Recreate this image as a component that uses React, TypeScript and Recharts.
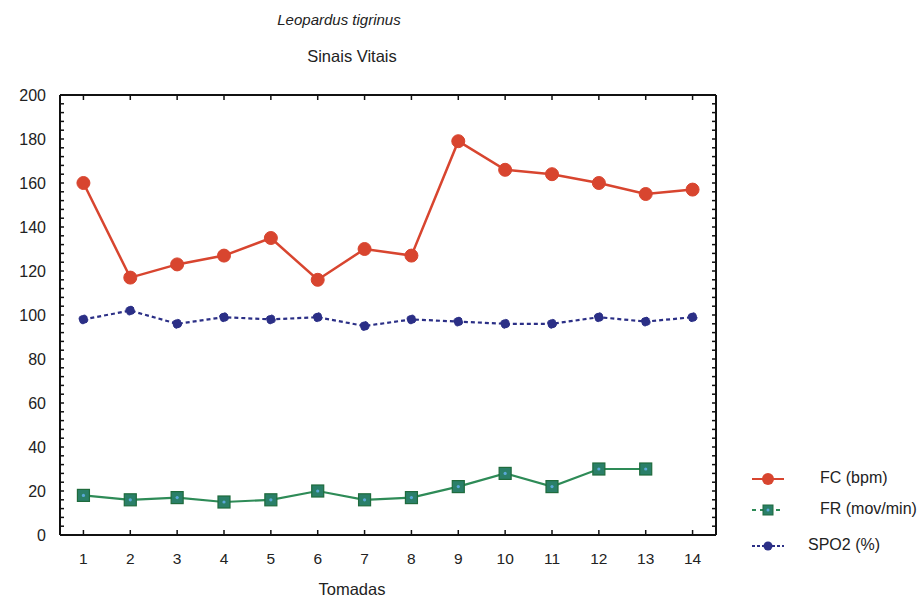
import {
  LineChart,
  Line,
  XAxis,
  YAxis,
} from "recharts";

const tomadas = [1, 2, 3, 4, 5, 6, 7, 8, 9, 10, 11, 12, 13, 14];
const fcBpm = [160, 117, 123, 127, 135, 116, 130, 127, 179, 166, 164, 160, 155, 157];
const frMovMin = [18, 16, 17, 15, 16, 20, 16, 17, 22, 28, 22, 30, 30, null];
const spo2 = [98, 102, 96, 99, 98, 99, 95, 98, 97, 96, 96, 99, 97, 99];

const yTicks = [0, 20, 40, 60, 80, 100, 120, 140, 160, 180, 200];
const yMinorTicks = Array.from({ length: 51 }, (_, i) => i * 4);

const data = tomadas.map((t, i) => ({
  t,
  fc: fcBpm[i],
  fr: frMovMin[i],
  spo2: spo2[i],
}));

const FONT = "'Liberation Sans', Arial, sans-serif";
const AXIS = { stroke: "#111", strokeWidth: 2 };
const TICK = { stroke: "#111", strokeWidth: 1.5 };
const noLabel = () => <g />;

// square marker with a light centre, like the green series
const SquareDot = (props: any) => {
  const { cx, cy } = props;
  if (cx == null || cy == null) return null;
  return (
    <g key={`sq-${cx}`}>
      <rect x={cx - 6} y={cy - 6} width={12} height={12} fill="#2a7f68" stroke="#1f6b3c" strokeWidth={1.2} />
      <circle cx={cx} cy={cy} r={1.6} fill="#5aa8d8" />
    </g>
  );
};

const legendItems = [
  { label: "FC (bpm)", color: "#d8452f", dash: undefined, kind: "circle", top: 470, textLeft: 820 },
  { label: "FR (mov/min)", color: "#2e8b57", dash: "4 4", kind: "square", top: 501, textLeft: 820 },
  { label: "SPO2 (%)", color: "#2b2f86", dash: "3 2", kind: "diamond", top: 537, textLeft: 808 },
];

function ChartLegend() {
  return (
    <>
      {legendItems.map((it) => (
        <div key={it.label} style={{ position: "absolute", left: 750, top: it.top, width: 172, height: 18 }}>
          <svg width={36} height={18} style={{ position: "absolute", left: 0, top: 0 }}>
            <line x1={2} y1={9} x2={34} y2={9} stroke={it.color} strokeWidth={2} strokeDasharray={it.dash} />
            {it.kind === "circle" && <circle cx={18} cy={9} r={6} fill={it.color} />}
            {it.kind === "square" && (
              <g>
                <rect x={13} y={4} width={10} height={10} fill="#2a7f68" stroke="#1f6b3c" />
                <circle cx={18} cy={9} r={1.5} fill="#5aa8d8" />
              </g>
            )}
            {it.kind === "diamond" && <circle cx={18} cy={9} r={4.5} fill={it.color} />}
          </svg>
          <span style={{ position: "absolute", left: it.textLeft - 750, top: -1, fontSize: 16, color: "#222", whiteSpace: "nowrap" }}>
            {it.label}
          </span>
        </div>
      ))}
    </>
  );
}

export default function App() {
  return (
    <div style={{ position: "absolute", left: 0, top: 0, width: 922, height: 598, background: "#fff", fontFamily: FONT }}>
      <div style={{ position: "absolute", left: 0, width: 678, top: 11, textAlign: "center", fontSize: 15, fontStyle: "italic", color: "#222" }}>
        Leopardus tigrinus
      </div>
      <div style={{ position: "absolute", left: 0, width: 704, top: 47, textAlign: "center", fontSize: 16.5, color: "#222" }}>
        Sinais Vitais
      </div>
      <div style={{ position: "absolute", left: 0, width: 704, top: 580, textAlign: "center", fontSize: 16.5, color: "#222" }}>
        Tomadas
      </div>
      <LineChart
        width={922}
        height={598}
        data={data}
        margin={{ top: 95, right: 206, left: 10, bottom: 33 }}
      >
        {/* tick-only axes (mirrored, so the ticks point into the frame) */}
        <XAxis
          xAxisId="bottomTicks"
          dataKey="t"
          type="number"
          domain={[0.5, 14.5]}
          ticks={tomadas}
          mirror
          axisLine={false}
          tickLine={TICK}
          tickSize={5}
          tick={noLabel}
          height={1}
        />
        <XAxis
          xAxisId="top"
          orientation="top"
          dataKey="t"
          type="number"
          domain={[0.5, 14.5]}
          ticks={tomadas}
          mirror
          axisLine={AXIS}
          tickLine={TICK}
          tickSize={5}
          tick={noLabel}
          height={1}
        />
        <YAxis
          yAxisId="leftMinor"
          domain={[0, 200]}
          ticks={yMinorTicks}
          width={1}
          mirror
          axisLine={false}
          tickLine={TICK}
          tickSize={4}
          tick={noLabel}
          interval={0}
        />
        <YAxis
          yAxisId="right"
          orientation="right"
          domain={[0, 200]}
          ticks={yMinorTicks}
          width={1}
          mirror
          axisLine={AXIS}
          tickLine={TICK}
          tickSize={4}
          tick={noLabel}
          interval={0}
        />
        <XAxis
          dataKey="t"
          type="number"
          domain={[0.5, 14.5]}
          ticks={tomadas}
          axisLine={AXIS}
          tickLine={false}
          tickMargin={12}
          height={30}
          tick={{ fill: "#222", fontSize: 15.5, fontFamily: FONT }}
        />
        <YAxis
          domain={[0, 200]}
          ticks={yTicks}
          width={50}
          axisLine={AXIS}
          tickLine={false}
          tickMargin={8}
          tick={{ fill: "#222", fontSize: 16, fontFamily: FONT }}
        />
        {/* invisible series so the frame axes get drawn */}
        <Line
          dataKey="fc"
          xAxisId="top"
          yAxisId="right"
          stroke="none"
          dot={false}
          activeDot={false}
          legendType="none"
          isAnimationActive={false}
        />
        <Line
          dataKey="fc"
          xAxisId="bottomTicks"
          yAxisId="leftMinor"
          stroke="none"
          dot={false}
          activeDot={false}
          legendType="none"
          isAnimationActive={false}
        />
        <Line
          dataKey="fc"
          stroke="#d8452f"
          strokeWidth={2.5}
          dot={{ r: 6.5, fill: "#d8452f", stroke: "#d8452f", strokeWidth: 1 }}
          isAnimationActive={false}
        />
        <Line
          dataKey="fr"
          stroke="#2e8b57"
          strokeWidth={2.2}
          dot={<SquareDot />}
          isAnimationActive={false}
        />
        <Line
          dataKey="spo2"
          stroke="#2b2f86"
          strokeWidth={2.2}
          strokeDasharray="4 3"
          dot={{ r: 4.5, fill: "#2b2f86", stroke: "#2b2f86", strokeWidth: 1 }}
          isAnimationActive={false}
        />
      </LineChart>
      <ChartLegend />
    </div>
  );
}
